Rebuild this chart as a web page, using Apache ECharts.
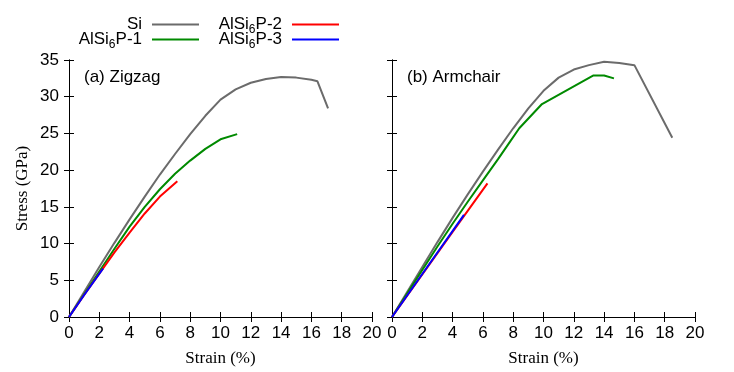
<!DOCTYPE html>
<html><head><meta charset="utf-8">
<script src="https://cdn.jsdelivr.net/npm/echarts@6/dist/echarts.min.js"></script>
<style>html,body{margin:0;padding:0;background:#fff}#c{width:734px;height:372px}</style>
</head><body><div id="c"></div>
<script>
// ---- data ----
const seriesNames = ['Si', 'AlSi6P-1', 'AlSi6P-2', 'AlSi6P-3'];
const panelLabels = ['(a) Zigzag', '(b) Armchair'];
const xTicks = [0, 2, 4, 6, 8, 10, 12, 14, 16, 18, 20];
const yTicks = [0, 5, 10, 15, 20, 25, 30, 35];

// Zigzag (left)
const zzSiStrain  = [0, 1, 2, 3, 4, 5, 6, 7, 8, 9, 10, 11, 12, 13, 14, 15, 16, 16.4, 17.1];
const zzSiStress  = [0, 3.4, 6.8, 10.1, 13.3, 16.4, 19.4, 22.2, 24.9, 27.4, 29.6, 31.0, 31.9, 32.4, 32.7, 32.6, 32.3, 32.1, 28.4];
const zzP1Strain  = [0, 1, 2, 3, 4, 5, 6, 7, 8, 9, 10, 11.1];
const zzP1Stress  = [0, 3.1, 6.2, 9.3, 12.3, 15.0, 17.4, 19.5, 21.3, 22.9, 24.2, 24.9];
const zzP2Strain  = [0, 1, 2, 3, 4, 5, 6, 7.15];
const zzP2Stress  = [0, 3.0, 5.9, 8.8, 11.5, 14.1, 16.4, 18.5];
const zzP3Strain  = [0, 1, 2.25];
const zzP3Stress  = [0, 3.0, 6.6];

// Armchair (right)
const acSiStrain  = [0, 1, 2, 3, 4, 5, 6, 7, 8, 9, 10, 11, 12, 13, 14, 15, 16, 18.5];
const acSiStress  = [0, 3.4, 6.8, 10.2, 13.5, 16.7, 19.8, 22.8, 25.7, 28.4, 30.8, 32.6, 33.7, 34.3, 34.75, 34.6, 34.3, 24.4];
const acP1Strain  = [0, 1, 2, 3, 4, 5, 6, 7, 7.6, 8.4, 9.9, 13.3, 14.0, 14.65];
const acP1Stress  = [0, 3.2, 6.4, 9.6, 12.7, 15.7, 18.6, 21.5, 23.3, 25.7, 29.0, 32.9, 32.9, 32.5];
const acP2Strain  = [0, 2, 4, 6.3];
const acP2Stress  = [0, 5.8, 11.6, 18.2];
const acP3Strain  = [0, 2, 4.75];
const acP3Stress  = [0, 5.85, 13.9];

const colors = ['#6b6b6b', '#008a00', '#ff0000', '#0000ff'];

const zip = (xs, ys) => xs.map((x, i) => [x, ys[i]]);
const panels = [
  [[zzSiStrain, zzSiStress], [zzP1Strain, zzP1Stress], [zzP2Strain, zzP2Stress], [zzP3Strain, zzP3Stress]],
  [[acSiStrain, acSiStress], [acP1Strain, acP1Stress], [acP2Strain, acP2Stress], [acP3Strain, acP3Stress]]
];

const SANS = 'Liberation Sans, Arial, sans-serif';
const SERIF = 'Liberation Serif, Times New Roman, serif';
const FS = 17;

const gridLefts = [69, 392];
const grids = gridLefts.map(l => ({ left: l, top: 60, width: 303, height: 258, containLabel: false }));

const xAxes = [], yAxes = [];
gridLefts.forEach((l, g) => {
  const tickCommon = { show: true, inside: true, length: 5, lineStyle: { color: '#000', width: 1 } };
  xAxes.push({
    gridIndex: g, type: 'value', min: 0, max: 20, interval: 2, position: 'bottom',
    name: 'Strain (%)', nameLocation: 'middle', nameGap: 33,
    nameTextStyle: { fontFamily: SERIF, fontSize: FS, color: '#000' },
    axisLine: { show: true, lineStyle: { color: '#000', width: 1 } },
    axisTick: tickCommon, splitLine: { show: false },
    axisLabel: { show: true, margin: 8, fontFamily: SANS, fontSize: FS, color: '#000',
      formatter: v => xTicks.includes(v) ? String(v) : '' }
  });
  xAxes.push({
    gridIndex: g, type: 'value', min: 0, max: 20, interval: 2, position: 'top',
    axisLine: { show: true, lineStyle: { color: '#000', width: 1 } },
    axisTick: tickCommon, axisLabel: { show: false }, splitLine: { show: false }
  });
  yAxes.push({
    gridIndex: g, type: 'value', min: 0, max: 35, interval: 5, position: 'left',
    name: g === 0 ? 'Stress (GPa)' : '', nameLocation: 'middle', nameGap: 38, nameRotate: 90,
    nameTextStyle: { fontFamily: SERIF, fontSize: FS, color: '#000' },
    axisLine: { show: true, lineStyle: { color: '#000', width: 1 } },
    axisTick: tickCommon, splitLine: { show: false },
    axisLabel: { show: g === 0, margin: 10, fontFamily: SANS, fontSize: FS, color: '#000',
      formatter: v => yTicks.includes(v) ? String(v) : '' }
  });
  yAxes.push({
    gridIndex: g, type: 'value', min: 0, max: 35, interval: 5, position: 'right',
    axisLine: { show: true, lineStyle: { color: '#000', width: 1 } },
    axisTick: tickCommon, axisLabel: { show: false }, splitLine: { show: false }
  });
});

const series = [];
panels.forEach((p, g) => {
  p.forEach((pair, i) => {
    series.push({
      type: 'line', name: seriesNames[i], xAxisIndex: g * 2, yAxisIndex: g * 2,
      data: zip(pair[0], pair[1]), showSymbol: false, symbol: 'none',
      lineStyle: { color: colors[i], width: 2 }, itemStyle: { color: colors[i] },
      animation: false, z: 2 + i
    });
  });
});

const richStyles = {
  a: { fontFamily: SANS, fontSize: FS, color: '#000' },
  s: { fontFamily: SANS, fontSize: 12, color: '#000', padding: [11, 0, 0, 0] }
};
const fmtName = n => {
  const m = n.match(/^AlSi6(.*)$/);
  return m ? '{a|AlSi}{s|6}{a|' + m[1] + '}' : '{a|' + n + '}';
};
const legendPos = [
  { name: 'Si', right: 535, top: 16 },
  { name: 'AlSi6P-1', right: 535, top: 31 },
  { name: 'AlSi6P-2', right: 395, top: 16 },
  { name: 'AlSi6P-3', right: 395, top: 31 }
];
const legends = legendPos.map(L => ({
  data: [L.name], right: L.right, top: L.top, align: 'right', orient: 'horizontal', padding: 0,
  icon: 'rect', itemWidth: 47, itemHeight: 2, selectedMode: false,
  formatter: fmtName,
  textStyle: { fontFamily: SANS, fontSize: FS, color: '#000', padding: [0, 5, 0, 0], rich: richStyles }
}));

const chart = echarts.init(document.getElementById('c'), null, { renderer: 'canvas' });
chart.setOption({
  animation: false,
  backgroundColor: '#fff',
  grid: grids, xAxis: xAxes, yAxis: yAxes, series: series, legend: legends,
  graphic: [
    { type: 'text', left: 84, top: 69, style: { text: panelLabels[0], font: FS + 'px ' + SANS, fill: '#000' } },
    { type: 'text', left: 407, top: 69, style: { text: panelLabels[1], font: FS + 'px ' + SANS, fill: '#000' } }
  ]
});
</script></body></html>
